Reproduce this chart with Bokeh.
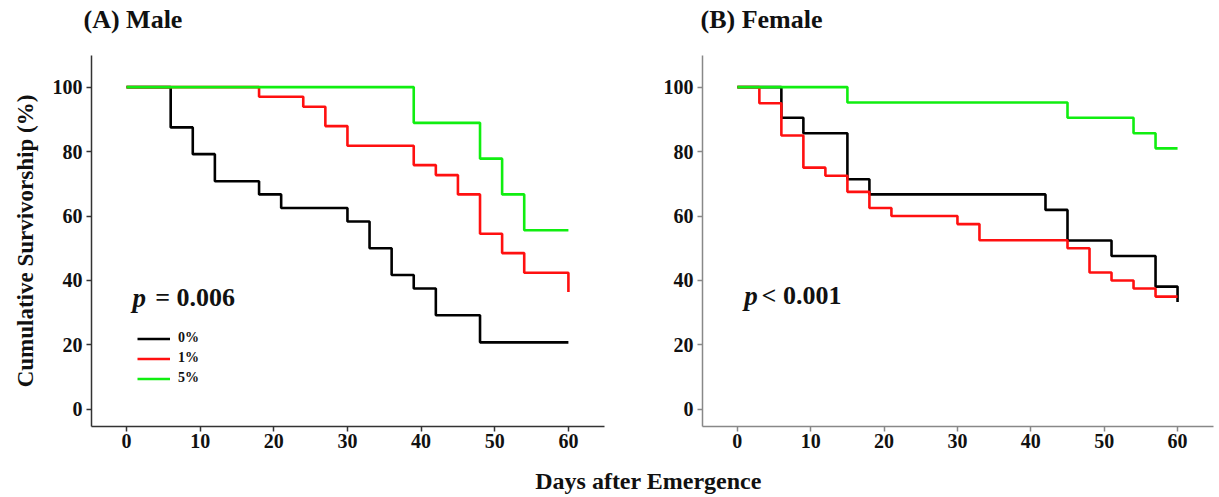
from bokeh.plotting import figure
from bokeh.layouts import row, column
from bokeh.models import Range1d, Legend, LegendItem, Label, FixedTicker
from bokeh.embed import file_html
from bokeh.resources import INLINE

# ---- data ----
panel_titles = ["(A) Male", "(B) Female"]
series_names = ["0%", "1%", "5%"]
x_ticks = [0, 10, 20, 30, 40, 50, 60]
y_ticks = [0, 20, 40, 60, 80, 100]
x_title = "Days after Emergence"
y_title = "Cumulative Survivorship (%)"
p_texts = [("p", "= 0.006"), ("p", "< 0.001")]

male_0_days = [0, 6, 9, 12, 18, 21, 30, 33, 36, 39, 42, 48, 60]
male_0_surv = [100, 87.5, 79.2, 70.8, 66.7, 62.5, 58.3, 50.0, 41.7, 37.5, 29.2, 20.8, 20.8]
male_1_days = [0, 18, 24, 27, 30, 39, 42, 45, 48, 51, 54, 60]
male_1_surv = [100, 97.0, 93.9, 87.9, 81.8, 75.8, 72.7, 66.7, 54.5, 48.5, 42.4, 36.4]
male_5_days = [0, 39, 48, 51, 54, 60]
male_5_surv = [100, 88.9, 77.8, 66.7, 55.6, 55.6]

female_0_days = [0, 6, 9, 15, 18, 42, 45, 51, 57, 60]
female_0_surv = [100, 90.5, 85.7, 71.4, 66.7, 61.9, 52.4, 47.6, 38.1, 33.3]
female_1_days = [0, 3, 6, 9, 12, 15, 18, 21, 30, 33, 45, 48, 51, 54, 57, 60]
female_1_surv = [100, 95, 85, 75, 72.5, 67.5, 62.5, 60, 57.5, 52.5, 50, 42.5, 40, 37.5, 35, 35]
female_5_days = [0, 15, 45, 54, 57, 60]
female_5_surv = [100, 95.2, 90.5, 85.7, 81.0, 81.0]

colors = ["#000000", "#ff1010", "#10ee10"]
FONT = "Liberation Serif"


def text_strip(width, height, text, x, y, size, align="left", baseline="alphabetic"):
    f = figure(width=width, height=height, output_backend="svg", toolbar_location=None,
               x_range=Range1d(0, 1), y_range=Range1d(0, 1), min_border=0)
    f.axis.visible = False
    f.grid.visible = False
    f.outline_line_color = None
    f.add_layout(Label(x=x, y=y, x_units="screen", y_units="screen", text=text,
                       text_font=FONT, text_font_style="bold", text_font_size=size,
                       text_color="#111111", text_align=align, text_baseline=baseline))
    return f


def make_panel(width, mb_left, mb_right, axis_color, y_label, curves, ptext, p_x, eq_x, p_y):
    p = figure(width=width, height=405, output_backend="svg", toolbar_location=None,
               x_range=Range1d(-4.75, 64.9), y_range=Range1d(-5.3, 109.8),
               min_border_left=mb_left, min_border_right=mb_right,
               min_border_top=0, min_border_bottom=34)
    p.outline_line_color = None
    p.grid.visible = False
    p.background_fill_color = "white"
    p.border_fill_color = "white"
    for ax in (p.xaxis[0], p.yaxis[0]):
        ax.axis_line_color = axis_color
        ax.axis_line_width = 1.5
        ax.major_tick_line_color = axis_color
        ax.major_tick_line_width = 1.5
        ax.major_tick_out = 5
        ax.major_tick_in = 0
        ax.minor_tick_line_color = None
        ax.major_label_text_font = FONT
        ax.major_label_text_font_style = "bold"
        ax.major_label_text_font_size = "20px"
        ax.major_label_text_color = "#111111"
    p.xaxis.ticker = FixedTicker(ticks=x_ticks)
    p.yaxis.ticker = FixedTicker(ticks=y_ticks)
    p.xaxis.major_label_standoff = 2
    p.yaxis.major_label_standoff = 4
    if y_label:
        p.yaxis.axis_label = y_label
        p.yaxis.axis_label_text_font = FONT
        p.yaxis.axis_label_text_font_style = "bold"
        p.yaxis.axis_label_text_font_size = "23px"
        p.yaxis.axis_label_text_color = "#111111"
        p.yaxis.axis_label_standoff = 12
    renderers = []
    for (xs, ys), c in zip(curves, colors):
        r = p.step(xs, ys, mode="after", line_color=c, line_width=2.6)
        renderers.append(r)
    p.add_layout(Label(x=p_x, y=p_y, text=ptext[0], text_font=FONT, text_font_style="bold italic",
                       text_font_size="27px", text_color="#111111", text_baseline="alphabetic"))
    p.add_layout(Label(x=eq_x, y=p_y, text=ptext[1], text_font=FONT, text_font_style="bold",
                       text_font_size="26px", text_color="#111111", text_baseline="alphabetic"))
    return p, renderers


t1 = text_strip(650, 55, panel_titles[0], 83, 36, "26px")
t2 = text_strip(569, 55, panel_titles[1], 50, 36, "26px")

p1, r1 = make_panel(650, 91, 46, "#333333", y_title,
                    [(male_0_days, male_0_surv), (male_1_days, male_1_surv), (male_5_days, male_5_surv)],
                    p_texts[0], 0.8, 3.9, 34.7)
legend = Legend(items=[LegendItem(label=n, renderers=[r]) for n, r in zip(series_names, r1)],
                location=(46, 40), orientation="vertical")
legend.glyph_width = 33
legend.glyph_height = 15
legend.label_height = 15
legend.label_standoff = 8
legend.spacing = 4
legend.padding = 0
legend.margin = 0
legend.border_line_color = None
legend.background_fill_alpha = 0
legend.label_text_font = FONT
legend.label_text_font_style = "bold"
legend.label_text_font_size = "14px"
legend.label_text_color = "#111111"
p1.add_layout(legend)

p2, r2 = make_panel(569, 52, 6, "#888888", None,
                    [(female_0_days, female_0_surv), (female_1_days, female_1_surv), (female_5_days, female_5_surv)],
                    p_texts[1], 0.95, 3.3, 35.2)

p3 = text_strip(1219, 37, x_title, 648, 17, "24px", align="center", baseline="middle")

layout = column(row(t1, t2), row(p1, p2), p3)
open("out.html", "w").write(file_html(layout, INLINE))
